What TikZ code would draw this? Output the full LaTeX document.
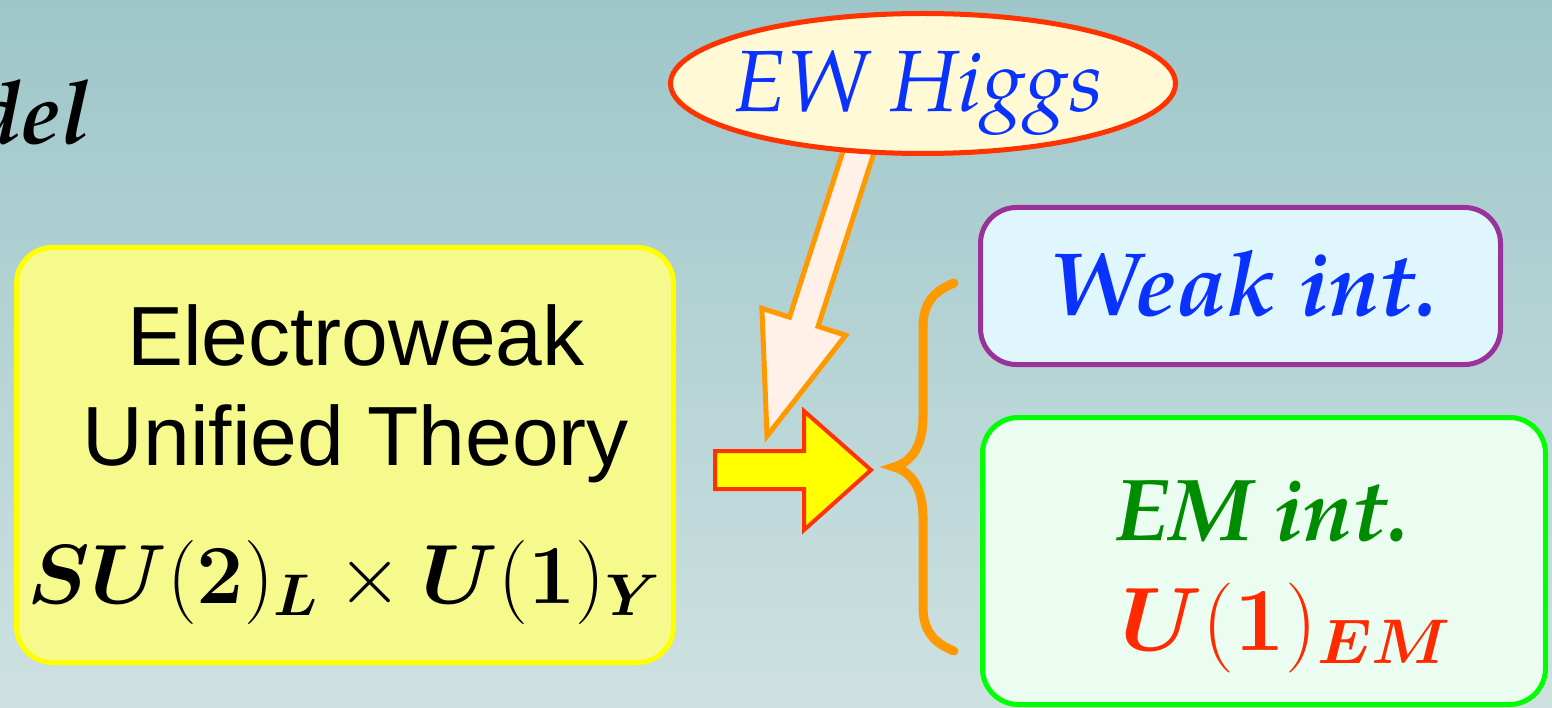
\RequirePackage{fix-cm}
\documentclass[tikz,border=0pt]{standalone}
\usepackage{fontspec}
\usepackage{bm}
\usetikzlibrary{shapes.geometric,calc}
\newfontfamily\pal{TeX Gyre Pagella}
\newfontfamily\hel{Liberation Sans}
\definecolor{bgtop}{RGB}{158,198,201}
\definecolor{bgbot}{RGB}{206,225,225}
\definecolor{ewfill}{HTML}{F6FA8C}
\definecolor{ewline}{HTML}{FFFF00}
\definecolor{weakfill}{HTML}{E0F6FD}
\definecolor{weakline}{HTML}{993399}
\definecolor{emfill}{HTML}{EBFCF1}
\definecolor{emline}{HTML}{00FF00}
\definecolor{higgsfill}{HTML}{FFF9D5}
\definecolor{redline}{HTML}{FF3300}
\definecolor{orangeline}{HTML}{FF9900}
\definecolor{hollowfill}{HTML}{FFF0E8}
\definecolor{txtblue}{HTML}{0A32FF}
\definecolor{txtgreen}{HTML}{008C00}
\definecolor{txtred}{HTML}{FF2A00}
\pgfdeclarelayer{bg}
\pgfdeclarelayer{mid}
\pgfsetlayers{bg,mid,main}
\tikzset{
  rbox/.style={rectangle, rounded corners=36pt, line width=5pt, inner sep=0pt},
  lbl/.style={anchor=base, inner sep=0pt},
  palit/.style={font=\pal\itshape\fontsize{#1}{#1}\selectfont},
  palbi/.style={font=\pal\bfseries\itshape\fontsize{#1}{#1}\selectfont},
}
\begin{document}
\begin{tikzpicture}[x=1pt,y=-1pt]
\useasboundingbox (0,0) rectangle (1552,708);
\begin{pgfonlayer}{bg}
\fill[top color=bgtop, bottom color=bgbot] (0,0) rectangle (1552,708);
\end{pgfonlayer}
\clip (0,0) rectangle (1552,708);

% title fragment
\node[lbl, anchor=base east, palbi=88] (title) at (90,144) {del};

% boxes
\node[rbox, draw=ewline, fill=ewfill, minimum width=657pt, minimum height=415pt] (ew) at (345,455) {};
\node[rbox, draw=weakline, fill=weakfill, minimum width=520pt, minimum height=157pt] (weak) at (1240.5,286) {};
\node[rbox, draw=emline, fill=emfill, minimum width=563pt, minimum height=287pt] (em) at (1264,561) {};

% Higgs ellipse
\node[ellipse, draw=redline, fill=higgsfill, line width=5pt, minimum width=505pt, minimum height=140pt, inner sep=0pt] (higgs) at (923,83.5) {};

% yellow arrow
\coordinate (ya) at (715,470);
\coordinate (yt) at (871,470);
\fill[ewline, draw=redline, line width=4pt, line join=miter]
  ($(ya)+(0,-19)$) -- ($(ya)+(89,-19)$) -- ($(ya)+(89,-59)$) -- (yt)
  -- ($(ya)+(89,60)$) -- ($(ya)+(89,19)$) -- ($(ya)+(0,19)$) -- cycle;

% hollow arrow from Higgs
\coordinate (hs) at ($(higgs.south)+(-61,-15)$);
\coordinate (ht) at ($(ya)+(52,-34)$);
\coordinate (hb) at ($(ht)!120pt!(hs)$);
\begin{pgfonlayer}{mid}
\filldraw[fill=hollowfill, draw=orangeline, line width=5pt, line join=miter]
  ($(hs)!15pt!90:(ht)$) -- ($(hb)!15pt!90:(ht)$) -- ($(hb)!44pt!90:(ht)$) -- (ht)
  -- ($(hb)!44pt!-90:(ht)$) -- ($(hb)!15pt!-90:(ht)$) -- ($(hs)!15pt!-90:(ht)$) -- cycle;
\end{pgfonlayer}

% brace
\coordinate (bm) at (894,467);
\draw[orangeline, line width=9pt, line cap=round, line join=miter]
  ($(bm)+(60,-184)$) .. controls ($(bm)+(40,-176)$) and ($(bm)+(29,-164)$) .. ($(bm)+(29,-140)$)
  -- ($(bm)+(29,-50)$) .. controls ($(bm)+(29,-22)$) and ($(bm)+(18,-5)$) .. (bm)
  .. controls ($(bm)+(18,5)$) and ($(bm)+(29,22)$) .. ($(bm)+(29,50)$)
  -- ($(bm)+(29,140)$) .. controls ($(bm)+(29,164)$) and ($(bm)+(40,176)$) .. ($(bm)+(60,184)$);

% texts
\node[lbl, font=\hel\fontsize{84}{84}\selectfont] (t1) at (356,365) {Electroweak};
\node[lbl, font=\hel\fontsize{84}{84}\selectfont] (t2) at (356,465) {Unified Theory};
\node[lbl, font=\fontsize{84}{84}\selectfont] (t3) at (344,603) {$\bm{S}\bm{U}(\bm{2})_{\bm{L}}\times\bm{U}(\bm{1})_{\bm{Y}}$};
\node[lbl, palit=87, text=txtblue] (hl) at (918,112) {EW Higgs};
\node[lbl, palbi=90, text=txtblue] (wl) at (1243,316) {Weak int.};
\node[lbl, palbi=88, text=txtgreen] (el) at (1262,540) {EM int.};
\node[lbl, font=\fontsize{90}{90}\selectfont, text=txtred] (ul) at (1286,650) {$\bm{U}(\bm{1})_{\bm{E}\bm{M}}$};
\end{tikzpicture}
\end{document}
